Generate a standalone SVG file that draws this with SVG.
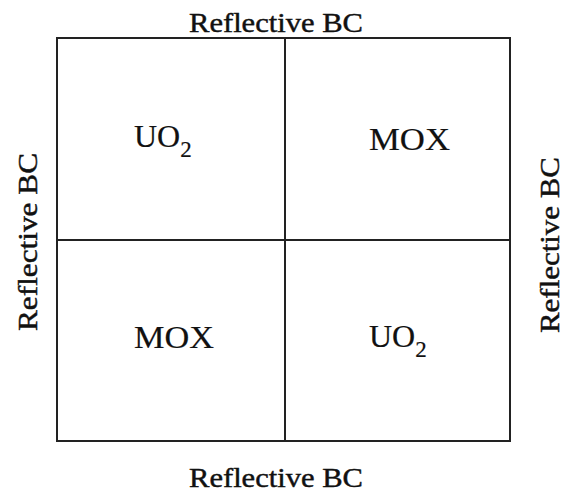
<svg xmlns="http://www.w3.org/2000/svg" width="564" height="496" viewBox="0 0 564 496">
  <style>
    .grid { fill: none; stroke: #222; stroke-width: 2; }
    .bc { font-family: "Liberation Serif", "Times New Roman", serif; font-size: 27px; fill: #111; stroke: #111; stroke-width: 0.45; text-anchor: middle; }
    .lbl { font-family: "Liberation Serif", "Times New Roman", serif; font-size: 32px; fill: #111; stroke: #111; stroke-width: 0.2; }
    .sub { font-size: 23px; }
  </style>
  <rect width="564" height="496" fill="#fff"/>

  <!-- Cell boundaries -->
  <g id="connectors">
    <rect class="grid" x="57" y="38" width="453" height="403"/>
    <line class="grid" x1="285" y1="38" x2="285" y2="441"/>
    <line class="grid" x1="57" y1="240" x2="510" y2="240"/>
  </g>

  <!-- Boundary condition labels -->
  <g id="bc-top"><text class="bc" x="276" y="32" textLength="174" lengthAdjust="spacingAndGlyphs">Reflective BC</text></g>
  <g id="bc-bottom"><text class="bc" x="276" y="487" textLength="174" lengthAdjust="spacingAndGlyphs">Reflective BC</text></g>
  <g id="bc-left"><text class="bc" transform="translate(37,242) rotate(-90)" x="0" y="0" textLength="178" lengthAdjust="spacingAndGlyphs">Reflective BC</text></g>
  <g id="bc-right"><text class="bc" transform="translate(559,245) rotate(-90)" x="0" y="0" textLength="176" lengthAdjust="spacingAndGlyphs">Reflective BC</text></g>

  <!-- Fuel assemblies -->
  <g id="cell-top-left"><text class="lbl" x="134" y="147">UO<tspan class="sub" dy="10">2</tspan></text></g>
  <g id="cell-top-right"><text class="lbl" x="369" y="150" textLength="81" lengthAdjust="spacingAndGlyphs">MOX</text></g>
  <g id="cell-bottom-left"><text class="lbl" x="134" y="348" textLength="80" lengthAdjust="spacingAndGlyphs">MOX</text></g>
  <g id="cell-bottom-right"><text class="lbl" x="369" y="347">UO<tspan class="sub" dy="10">2</tspan></text></g>
</svg>
